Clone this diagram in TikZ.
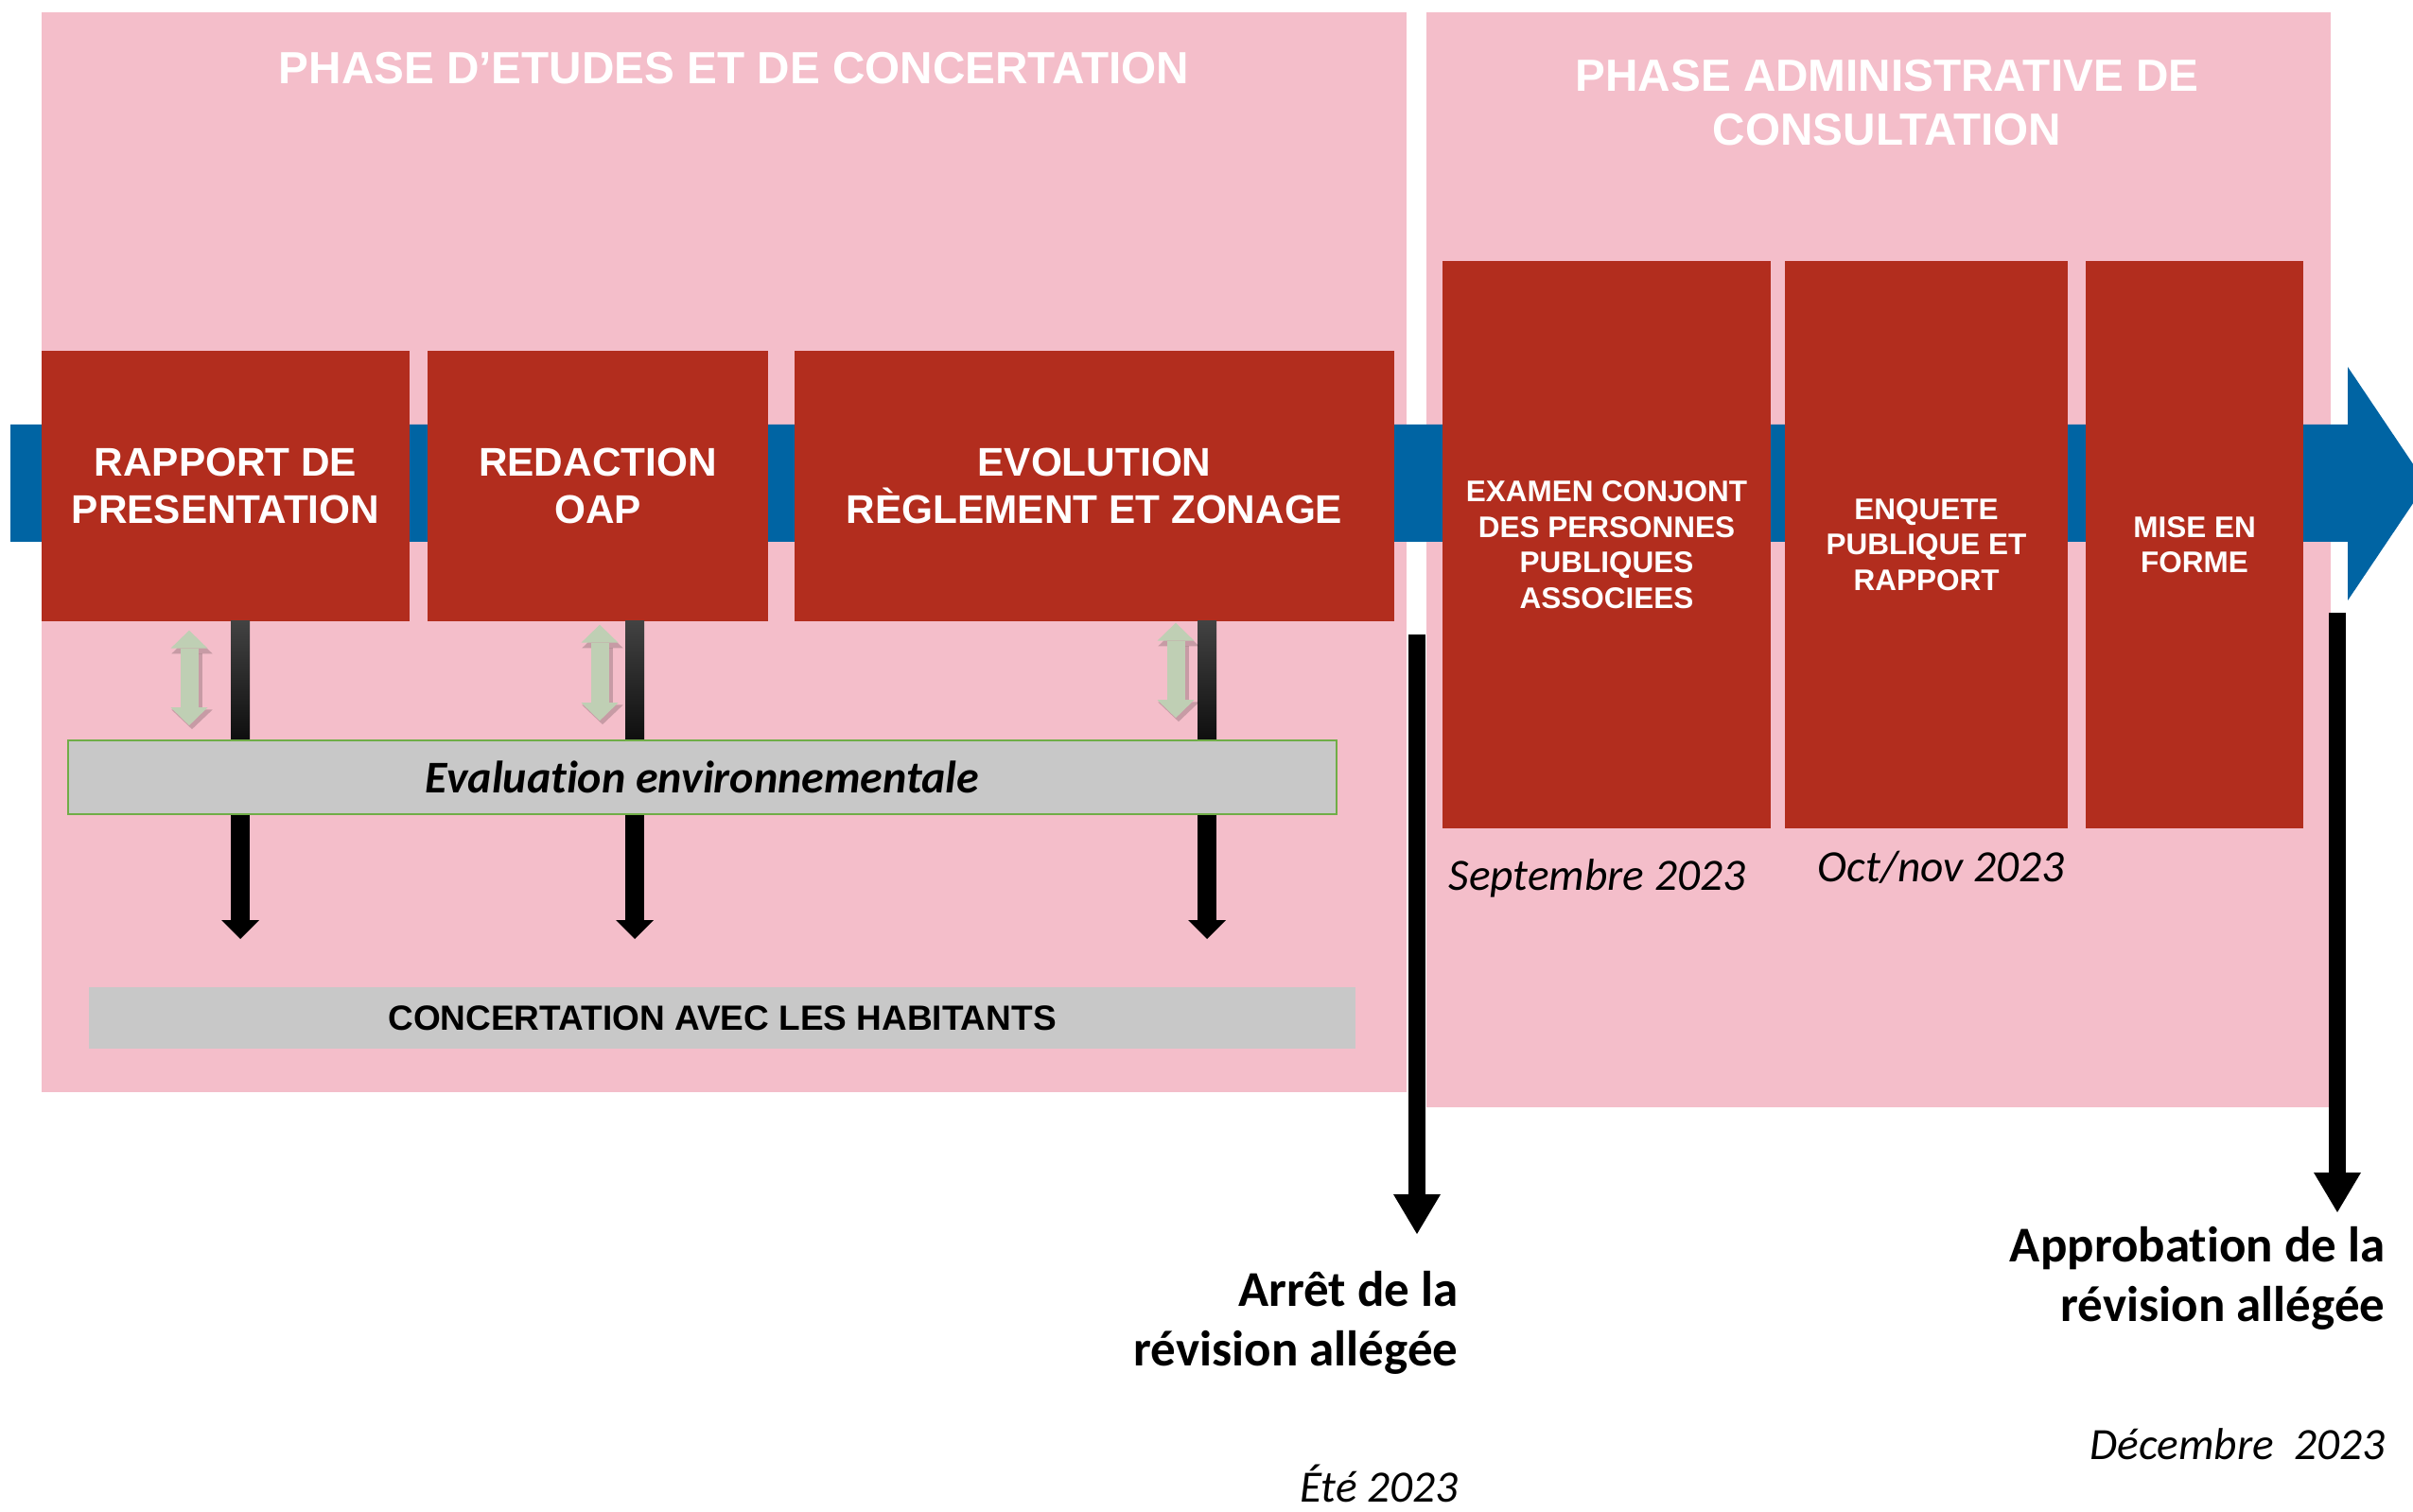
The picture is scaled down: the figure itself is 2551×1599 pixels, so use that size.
\documentclass[tikz,border=0pt]{standalone}
\usepackage{fontspec}
\setmainfont{Carlito}[Ligatures=CommonOff]
\newfontfamily\arialf{Liberation Sans}
\usetikzlibrary{arrows.meta,calc}
\definecolor{pinkbg}{RGB}{244,190,202}
\definecolor{redbox}{RGB}{178,45,30}
\definecolor{blueband}{RGB}{0,100,163}
\definecolor{graybox}{RGB}{200,200,200}
\definecolor{greenarr}{RGB}{191,207,180}
\definecolor{greenline}{RGB}{112,173,71}
\definecolor{shafttop}{RGB}{66,66,66}
\definecolor{shaftbot}{RGB}{14,14,14}
\begin{document}
\begin{tikzpicture}[x=0.3pt,y=-0.3pt,
  phasebox/.style={fill=pinkbg, draw=none, inner sep=0pt},
  phasetitle/.style={text=white, font=\arialf\bfseries\fontsize{14.3}{17.1}\selectfont, align=center, inner sep=0pt},
  redL/.style={fill=redbox, text=white, font=\arialf\bfseries\fontsize{12.7}{15}\selectfont, align=center, inner sep=0pt, minimum height=85.8pt},
  redR/.style={fill=redbox, text=white, font=\arialf\bfseries\fontsize{9.45}{11.25}\selectfont, align=center, inner sep=0pt, minimum height=180pt},
  evalbox/.style={fill=graybox, draw=greenline, line width=0.5pt, inner sep=0pt, font=\bfseries\itshape\fontsize{14.4}{16}\selectfont},
  concbox/.style={fill=graybox, draw=none, inner sep=0pt, font=\arialf\bfseries\fontsize{11.1}{13}\selectfont},
  downarrow/.style={draw=black, line width=6pt, -{Triangle[width=12pt,length=6pt,line width=0pt]}},
  dblarrow/.style={draw=greenarr, line width=5.7pt, {Triangle[width=11.7pt,length=5.7pt,line width=0pt]}-{Triangle[width=11.7pt,length=5.7pt,line width=0pt]}},
  dblshadow/.style={draw=black, opacity=0.18, line width=6.6pt, {Triangle[width=13pt,length=6.2pt,line width=0pt]}-{Triangle[width=13pt,length=6.2pt,line width=0pt]}, transform canvas={shift={(0.9pt,-1.2pt)}}},
  milestone/.style={draw=black, line width=5.4pt, -{Triangle[width=15pt,length=12.6pt,line width=0pt]}},
  milestonetext/.style={font=\bfseries\fontsize{15.9}{18.9}\selectfont, align=right, inner sep=0pt},
  datetext/.style={font=\itshape\fontsize{14.2}{16}\selectfont, inner sep=0pt}
]
\useasboundingbox (0,0) rectangle (2551,1599);
\fill[white] (0,0) rectangle (2551,1599);

% phase backgrounds
\node[phasebox, minimum width=432.9pt, minimum height=342.6pt] (phaseA) at (765.5,584) {};
\node[phasebox, minimum width=286.8pt, minimum height=347.4pt] (phaseB) at (1986,592) {};
\node[phasetitle] (titleA) at (776,72) {PHASE D’ETUDES ET DE CONCERTATION};
\node[phasetitle] (titleB) at (1995,109) {PHASE ADMINISTRATIVE DE\\CONSULTATION};

% blue timeline arrow
\fill[blueband] (11,449) -- (2482,449) -- (2482,388) -- (2565,511.5) -- (2482,635) -- (2482,573) -- (11,573) -- cycle;

% red step boxes
\node[redL, minimum width=116.7pt] (rap) at (238.5,514) {RAPPORT DE\\PRESENTATION};
\node[redL, minimum width=108pt] (oap) at (632,514) {REDACTION\\OAP};
\node[redL, minimum width=190.2pt] (evo) at (1157,514) {EVOLUTION\\RÈGLEMENT ET ZONAGE};
\node[redR, minimum width=104.1pt] (exa) at (1698.5,576) {EXAMEN CONJONT\\DES PERSONNES\\PUBLIQUES\\ASSOCIEES};
\node[redR, minimum width=89.7pt] (enq) at (2036.5,576) {ENQUETE\\PUBLIQUE ET\\RAPPORT};
\node[redR, minimum width=69pt] (mef) at (2320,576) {MISE EN\\FORME};

% column coordinates
\coordinate (c1) at (254,993);
\coordinate (c2) at (671,993);
\coordinate (c3) at (1276,993);
\coordinate (d1) at (200,0);
\coordinate (d2) at (634,0);
\coordinate (d3) at (1243,0);

% black down arrows
\draw[downarrow] (rap.south -| c1) -- (c1);
\draw[downarrow] (oap.south -| c2) -- (c2);
\draw[downarrow] (evo.south -| c3) -- (c3);
\foreach \xx in {254,671,1276}{
  \shade[top color=shafttop, bottom color=shaftbot] (\xx-10,657) rectangle (\xx+10,783);
}

% boxes
\node[evalbox, minimum width=402.3pt, minimum height=23.4pt] (eval) at (742.5,822) {Evaluation environnementale};
\node[concbox, minimum width=401.7pt, minimum height=19.5pt] (conc) at (763.5,1076.5) {CONCERTATION AVEC LES HABITANTS};

% green double arrows
\draw[dblshadow, shorten <=2.7pt, shorten >=4.5pt] (rap.south -| d1) -- (eval.north -| d1);
\draw[dblarrow, shorten <=2.7pt, shorten >=4.5pt] (rap.south -| d1) -- (eval.north -| d1);
\draw[dblshadow, shorten <=0.9pt, shorten >=6pt] (oap.south -| d2) -- (eval.north -| d2);
\draw[dblarrow, shorten <=0.9pt, shorten >=6pt] (oap.south -| d2) -- (eval.north -| d2);
\draw[dblshadow, shorten <=0.3pt, shorten >=6.9pt] (evo.south -| d3) -- (eval.north -| d3);
\draw[dblarrow, shorten <=0.3pt, shorten >=6.9pt] (evo.south -| d3) -- (eval.north -| d3);

% milestone arrows
\coordinate (mA) at (1498,671);
\coordinate (mAtip) at (1498,1305);
\coordinate (mB) at (2471,648);
\coordinate (mBtip) at (2471,1282);
\draw[milestone] (mA) -- (mAtip);
\draw[milestone] (mB) -- (mBtip);

% milestone labels
\node[milestonetext, anchor=north east] (arret) at (1542,1344) {Arrêt de la\\révision allégée};
\node[milestonetext, anchor=north east] (appro) at (2522,1297) {Approbation de la\\révision allégée};

% dates
\node[datetext, anchor=base east] (ete) at (1542,1588) {Été 2023};
\node[datetext, anchor=base east] (dec) at (2522,1543) {Décembre\ \ 2023};
\node[datetext, anchor=base west] (sep) at (1531,941) {Septembre 2023};
\node[datetext, anchor=base west] (oct) at (1921,932) {Oct/nov 2023};
\end{tikzpicture}
\end{document}
